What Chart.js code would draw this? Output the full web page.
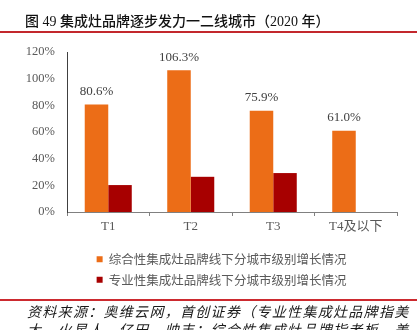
<!DOCTYPE html>
<html>
<head>
<meta charset="utf-8">
<script src="https://cdn.jsdelivr.net/npm/chart.js@4.4.0/dist/chart.umd.min.js"></script>
<style>
  body { margin: 0; background: #fff; }
  #wrap { position: relative; width: 417px; height: 330px; overflow: hidden; }
  #chart_box { position: absolute; left: 0; top: 0; width: 417px; height: 330px; }
  .title {
    position: absolute; left: 25px; top: 10px; white-space: nowrap;
    font: 500 14px 'Liberation Serif', 'Noto Sans CJK SC'; color: #111;
  }
  .rule_top { position: absolute; left: 0; top: 31px; width: 417px; height: 2px; background: #c3282d; }
  .rule_bottom { position: absolute; left: 0; top: 299px; width: 417px; height: 2px; background: #cc2a2f; }
  .source {
    position: absolute; left: 27px; top: 302px; white-space: nowrap;
    font: italic 14px 'Noto Sans CJK SC'; letter-spacing: 1.3px; line-height: 18px; color: #1a1a1a;
  }
</style>
</head>
<body>
<div id="wrap">
  <div id="chart_box"><canvas id="tier_chart"></canvas></div>
  <div class="title">图 49 集成灶品牌逐步发力一二线城市（2020 年）</div>
  <div class="rule_top"></div>
  <div class="rule_bottom"></div>
  <div class="source">资料来源：奥维云网，首创证券（专业性集成灶品牌指美<br>大、火星人、亿田、帅丰；综合性集成灶品牌指老板、美</div>
</div>
<script>
const tier_list = ['T1', 'T2', 'T3', 'T4及以下']
const overall_list = [80.6, 106.3, 75.9, 61.0]    // 综合性品牌
const special_list = [20.2, 26.4, 29.2, null]     // 专业性品牌
const y_max = 120,
      y_step = 20

const serif = "'Liberation Serif', 'Noto Sans CJK SC'"

// percentage labels above the orange bars
const valueLabels = {
    id: 'valueLabels',
    afterDatasetsDraw(chart) {
        const ctx = chart.ctx
        const meta = chart.getDatasetMeta(0)
        ctx.save()
        ctx.font = "13px 'Liberation Serif'"
        ctx.fillStyle = '#404040'
        ctx.textAlign = 'center'
        ctx.textBaseline = 'middle'
        meta.data.forEach((bar, i) => {
            ctx.fillText(overall_list[i].toFixed(1) + '%', bar.x, bar.y - 13)
        })
        ctx.restore()
    }
}

// legend rows sit a little right of the canvas centre
const legendShift = {
    id: 'legendShift',
    afterLayout(chart) {
        chart.legend.left = 46
    }
}

const ctx = document.getElementById('tier_chart').getContext('2d')
new Chart(ctx, {
    type: 'bar',
    data: {
        labels: tier_list,
        datasets: [{
            label: '综合性集成灶品牌线下分城市级别增长情况',
            data: overall_list,
            backgroundColor: '#ec6d17',
            borderWidth: 0,
            categoryPercentage: 0.57,
            barPercentage: 1.0
        }, {
            label: '专业性集成灶品牌线下分城市级别增长情况',
            data: special_list,
            backgroundColor: '#a70000',
            borderWidth: 0,
            categoryPercentage: 0.57,
            barPercentage: 1.0
        }]
    },
    options: {
        responsive: true,
        maintainAspectRatio: false,
        animation: false,
        layout: { padding: { top: 52, right: 20, bottom: 34, left: 0 } },
        plugins: {
            tooltip: { enabled: false },
            legend: {
                position: 'bottom',
                labels: {
                    boxWidth: 6,
                    boxHeight: 6,
                    padding: 8,
                    color: '#595959',
                    font: { family: "'Noto Sans CJK SC'", size: 12.5 }
                }
            }
        },
        scales: {
            x: {
                afterFit: s => { s.height = 33 },
                grid: { display: true, drawOnChartArea: false, drawTicks: true, tickLength: 4, offset: true, color: '#808080' },
                border: { color: '#808080', width: 1 },
                ticks: { color: '#595959', padding: 3, font: { family: serif, size: 13 } }
            },
            y: {
                min: 0,
                max: y_max,
                afterFit: s => { s.width = 67 },
                grid: { display: false, drawTicks: false },
                border: { color: '#404040', width: 1 },
                ticks: {
                    stepSize: y_step,
                    color: '#595959',
                    padding: 12,
                    font: { family: serif, size: 12.5 },
                    callback: v => v + '%'
                }
            }
        }
    },
    plugins: [valueLabels, legendShift]
})
</script>
</body>
</html>
